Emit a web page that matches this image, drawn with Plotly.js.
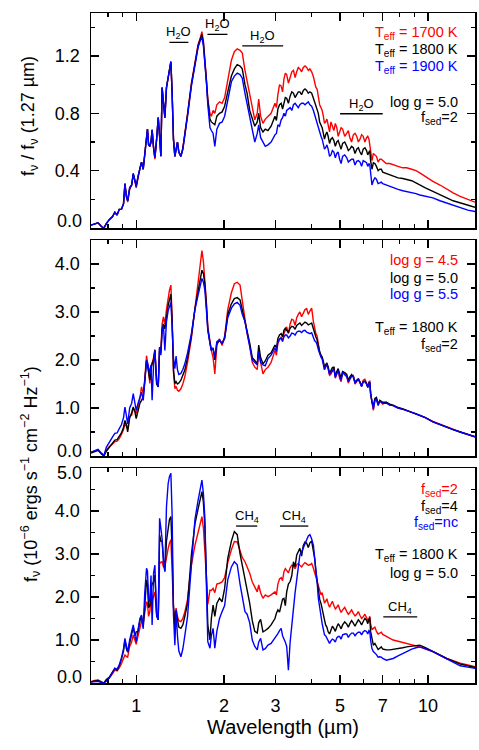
<!DOCTYPE html>
<html>
<head>
<meta charset="utf-8">
<script src="https://cdn.plot.ly/plotly-3.0.1.min.js"></script>
<style>html,body{margin:0;padding:0;background:#fff;}#chart{width:479px;height:750px;}</style>
</head>
<body>
<div id="chart"></div>
<script>
// ---------- DATA ----------
const wavelength = [
0.70,0.72,0.74,0.76,0.775,0.79,0.81,0.83,0.845,0.86,
0.875,0.89,0.905,0.915,0.925,0.935,0.95,0.965,0.977,0.99,
1.0,1.015,1.03,1.043,1.057,1.07,1.085,1.093,1.103,1.114,
1.124,1.134,1.147,1.159,1.175,1.19,1.203,1.215,1.227,1.24,
1.254,1.27,1.287,1.30,1.315,1.328,1.342,1.357,1.37,1.385,
1.40,1.423,1.445,1.468,1.50,1.546,1.59,1.63,1.66,1.68,
1.70,1.72,1.74,1.76,1.79,1.81,1.835,1.86,1.89,1.93,
1.97,2.01,2.06,2.12,2.17,2.22,2.27,2.31,2.36,2.40,
2.45,2.50,2.55,2.60,2.63,2.67,2.72,2.77,2.83,2.90,
2.99,3.06,3.14,3.21,3.28,3.37,3.46,3.55,3.64,3.74,
3.84,3.94,4.05,4.13,4.21,4.30,4.38,4.46,4.55,4.65,
4.76,4.87,4.98,5.10,5.27,5.40,5.55,5.70,5.85,6.00,
6.16,6.28,6.36,6.50,6.66,6.84,7.0,7.2,7.4,7.6,
7.9,8.2,8.45,8.8,9.1,9.38,9.8,10.4,11.0,11.6,
12.2,12.9,13.7,14.5];
// extra samples in the noisy 3-7 µm region
const wavelengthMid = [
3.025,3.10,3.175,3.245,3.325,3.415,3.505,3.595,3.69,3.79,
3.89,3.995,4.09,4.17,4.255,4.34,4.42,4.505,4.60,4.705,
4.815,4.925,5.04,5.185,5.335,5.475,5.625,5.775,5.925,6.08,
6.22,6.32,6.43,6.58,6.75,6.92];

// Panel 1: normalised flux, Teff series
const teff1700 = [
0.02,0.03,0.036,0.01,0.0,0.03,0.06,0.08,0.11,0.09,
0.13,0.13,0.17,0.30,0.22,0.18,0.27,0.30,0.37,0.33,
0.28,0.36,0.42,0.46,0.41,0.52,0.66,0.69,0.58,0.57,
0.60,0.685,0.56,0.48,0.62,0.77,0.64,0.50,0.98,0.88,
0.77,0.98,1.056,1.10,1.16,0.94,0.62,0.50,0.55,0.60,
0.53,0.50,0.56,0.65,0.80,1.01,1.17,1.28,1.33,1.37,
1.30,1.19,1.04,0.90,0.80,0.78,0.82,0.80,0.86,0.88,
0.87,0.91,1.02,1.17,1.23,1.25,1.24,1.22,1.10,1.03,
0.92,0.84,0.755,0.80,0.90,0.78,0.73,0.76,0.78,0.80,
0.87,0.93,0.99,1.04,1.07,1.05,1.10,1.09,1.11,1.12,
1.12,1.11,1.055,0.98,0.92,0.84,0.78,0.74,0.72,0.74,
0.68,0.70,0.67,0.69,0.66,0.63,0.65,0.64,0.62,0.64,
0.63,0.62,0.55,0.52,0.50,0.48,0.47,0.45,0.45,0.44,
0.43,0.42,0.42,0.41,0.40,0.385,0.36,0.325,0.30,0.27,
0.245,0.22,0.20,0.18];
const teff1700Mid = [
0.84,1.00,0.95,1.08,1.01,1.09,1.05,1.12,1.09,1.13,
1.10,1.09,1.02,0.97,0.86,0.82,0.73,0.76,0.67,0.71,
0.73,0.64,0.70,0.64,0.68,0.60,0.66,0.60,0.65,0.60,
0.64,0.58,0.47,0.51,0.46,0.48];
const teff1800 = [
0.02,0.03,0.036,0.01,0.0,0.03,0.06,0.08,0.11,0.09,
0.13,0.13,0.17,0.31,0.22,0.19,0.28,0.30,0.38,0.33,
0.29,0.36,0.42,0.46,0.41,0.52,0.66,0.69,0.58,0.57,
0.60,0.685,0.56,0.49,0.62,0.77,0.64,0.50,0.98,0.88,
0.77,0.98,1.056,1.10,1.16,0.94,0.62,0.50,0.55,0.60,
0.53,0.50,0.55,0.64,0.79,1.00,1.16,1.27,1.32,1.35,
1.29,1.18,1.03,0.89,0.76,0.74,0.73,0.72,0.78,0.80,
0.81,0.85,0.95,1.06,1.11,1.14,1.13,1.11,1.00,0.94,
0.82,0.76,0.71,0.74,0.80,0.70,0.67,0.69,0.68,0.71,
0.78,0.83,0.87,0.88,0.905,0.92,0.94,0.93,0.95,0.96,
0.96,0.95,0.905,0.85,0.80,0.72,0.66,0.65,0.64,0.62,
0.61,0.60,0.58,0.59,0.57,0.55,0.56,0.55,0.53,0.55,
0.54,0.53,0.47,0.455,0.43,0.41,0.39,0.38,0.37,0.36,
0.35,0.345,0.34,0.33,0.315,0.30,0.28,0.255,0.23,0.21,
0.19,0.175,0.16,0.145];
const teff1800Mid = [
0.75,0.86,0.83,0.91,0.87,0.95,0.91,0.95,0.93,0.97,
0.94,0.94,0.88,0.83,0.74,0.70,0.62,0.67,0.59,0.63,
0.57,0.61,0.55,0.60,0.54,0.57,0.52,0.56,0.51,0.56,
0.51,0.54,0.41,0.45,0.40,0.41];
const teff1900 = [
0.02,0.03,0.036,0.01,0.0,0.03,0.06,0.08,0.11,0.09,
0.13,0.13,0.17,0.31,0.22,0.19,0.28,0.30,0.38,0.33,
0.29,0.36,0.42,0.46,0.41,0.52,0.66,0.69,0.58,0.57,
0.60,0.685,0.56,0.49,0.62,0.77,0.64,0.50,0.98,0.88,
0.77,0.98,1.056,1.10,1.16,0.94,0.62,0.50,0.55,0.60,
0.53,0.50,0.55,0.64,0.78,0.99,1.15,1.26,1.31,1.33,
1.27,1.17,1.02,0.86,0.70,0.68,0.66,0.57,0.69,0.73,
0.74,0.78,0.90,1.02,1.06,1.08,1.07,1.045,0.94,0.86,
0.78,0.69,0.60,0.66,0.72,0.63,0.60,0.57,0.58,0.60,
0.65,0.72,0.755,0.80,0.82,0.84,0.86,0.85,0.86,0.87,
0.87,0.86,0.82,0.76,0.71,0.64,0.59,0.56,0.55,0.51,
0.53,0.52,0.48,0.50,0.49,0.47,0.48,0.465,0.46,0.47,
0.455,0.45,0.37,0.33,0.34,0.315,0.31,0.30,0.29,0.28,
0.27,0.26,0.255,0.25,0.24,0.23,0.22,0.21,0.19,0.175,
0.16,0.14,0.125,0.115];
const teff1900Mid = [
0.66,0.71,0.77,0.78,0.83,0.82,0.87,0.84,0.87,0.86,
0.88,0.85,0.79,0.74,0.66,0.62,0.55,0.58,0.50,0.54,
0.49,0.53,0.45,0.51,0.46,0.48,0.44,0.47,0.43,0.46,
0.43,0.44,0.30,0.35,0.31,0.32];

// Panel 2: flux (1e-6 cgs), log g series
const logg45 = [
0.08,0.10,0.13,0.05,0.01,0.12,0.20,0.25,0.30,0.31,
0.36,0.45,0.55,0.67,0.60,0.57,0.82,0.85,0.99,0.95,
0.88,1.05,1.20,1.44,1.30,1.60,2.09,1.95,1.65,1.51,
1.85,1.93,2.05,2.22,1.55,1.44,2.25,2.20,2.75,2.90,
2.75,3.05,3.31,3.45,3.56,2.90,1.75,1.40,1.45,1.37,
1.35,1.40,1.50,1.65,1.95,2.45,3.07,3.60,3.95,4.28,
4.05,3.70,3.20,2.69,2.35,2.20,2.05,1.71,2.30,2.44,
2.30,2.50,3.05,3.40,3.59,3.62,3.56,3.20,2.85,2.55,
2.30,1.95,1.85,1.80,2.20,1.95,1.71,1.80,1.85,1.95,
2.20,2.35,2.48,2.55,2.69,2.75,2.83,2.88,3.00,2.98,
3.07,3.02,2.80,2.55,2.30,2.08,1.95,1.85,1.82,1.70,
1.85,1.72,1.62,1.75,1.66,1.58,1.68,1.55,1.54,1.58,
1.52,1.55,1.30,0.95,1.20,1.15,1.08,1.12,1.06,1.05,
1.00,0.98,0.95,0.91,0.88,0.85,0.80,0.72,0.66,0.60,
0.55,0.50,0.45,0.40];
const logg45Mid = [
2.10,2.42,2.38,2.62,2.55,2.85,2.72,2.95,2.90,3.05,
2.95,3.08,2.62,2.50,2.15,2.05,1.80,1.92,1.68,1.80,
1.62,1.80,1.55,1.70,1.52,1.68,1.50,1.62,1.45,1.60,
1.42,1.56,1.10,1.15,1.05,1.12];
const logg50 = [
0.06,0.09,0.12,0.04,0.0,0.10,0.19,0.28,0.33,0.34,
0.40,0.48,0.60,0.74,0.66,0.50,0.80,0.90,1.02,0.92,
0.78,0.95,1.10,1.16,1.23,1.55,1.99,1.90,1.70,1.58,
1.80,1.93,2.00,2.20,1.50,1.44,2.27,2.15,2.65,2.75,
2.65,2.95,3.14,3.25,3.37,2.80,1.80,1.51,1.55,1.50,
1.52,1.58,1.68,1.79,2.05,2.50,3.07,3.45,3.72,3.87,
3.80,3.58,3.15,2.65,2.35,2.20,2.25,2.00,2.35,2.40,
2.35,2.45,2.95,3.17,3.28,3.30,3.25,3.05,2.85,2.60,
2.35,2.05,1.99,1.92,2.31,2.05,1.92,1.98,2.10,2.15,
2.31,2.45,2.55,2.62,2.62,2.66,2.69,2.72,2.77,2.76,
2.77,2.75,2.65,2.48,2.28,2.10,1.97,1.90,1.86,1.78,
1.85,1.76,1.72,1.76,1.70,1.65,1.64,1.58,1.54,1.55,
1.51,1.52,1.32,1.05,1.22,1.16,1.12,1.12,1.08,1.06,
1.01,0.98,0.95,0.91,0.87,0.85,0.80,0.71,0.65,0.60,
0.55,0.50,0.45,0.40];
const logg50Mid = [
2.25,2.52,2.48,2.66,2.57,2.70,2.64,2.75,2.72,2.79,
2.73,2.77,2.55,2.42,2.18,2.06,1.85,1.94,1.72,1.84,
1.66,1.82,1.62,1.74,1.58,1.70,1.54,1.60,1.46,1.56,
1.44,1.54,1.12,1.20,1.08,1.14];
const logg55 = [
0.08,0.11,0.14,0.06,0.01,0.18,0.30,0.40,0.47,0.48,
0.57,0.65,0.80,1.02,0.85,0.67,1.00,1.10,1.30,1.12,
0.95,1.10,1.25,1.33,1.16,1.60,1.99,1.95,1.80,1.72,
1.90,1.16,1.90,2.20,1.55,1.44,2.27,2.10,2.60,2.72,
2.20,2.80,3.03,3.10,3.20,2.70,2.05,1.82,2.08,1.80,
1.70,1.72,1.80,1.92,2.15,2.55,3.05,3.35,3.56,3.70,
3.62,3.45,3.05,2.61,2.35,2.20,2.25,2.05,2.38,2.42,
2.34,2.45,2.88,3.08,3.17,3.20,3.14,2.95,2.80,2.55,
2.30,2.00,1.95,1.90,2.17,1.95,1.90,1.88,2.03,2.10,
2.25,2.38,2.45,2.48,2.52,2.50,2.55,2.58,2.60,2.61,
2.58,2.55,2.48,2.38,2.22,2.06,1.93,1.87,1.82,1.74,
1.80,1.73,1.66,1.74,1.65,1.60,1.66,1.56,1.52,1.54,
1.50,1.52,1.30,0.98,1.18,1.14,1.10,1.10,1.06,1.05,
1.00,0.97,0.95,0.91,0.88,0.85,0.80,0.71,0.65,0.60,
0.55,0.50,0.45,0.40];
const logg55Mid = [
2.18,2.44,2.40,2.52,2.46,2.56,2.52,2.60,2.57,2.62,
2.56,2.57,2.40,2.32,2.12,2.02,1.80,1.90,1.70,1.78,
1.64,1.78,1.58,1.70,1.55,1.66,1.52,1.60,1.45,1.55,
1.43,1.52,1.08,1.16,1.06,1.12];

// Panel 3: flux (1e-6 cgs), f_sed series
const fsed2 = [
0.03,0.06,0.07,0.03,0.0,0.06,0.12,0.22,0.30,0.28,
0.35,0.45,0.55,0.65,0.62,0.60,0.85,0.95,1.12,1.00,
0.90,1.10,1.30,1.43,1.40,1.60,1.89,1.85,1.55,1.66,
1.95,1.90,2.00,2.12,1.60,1.47,2.82,2.80,2.82,2.70,
2.70,2.95,3.13,3.25,3.33,2.60,1.75,1.50,1.74,1.55,
1.45,1.43,1.50,1.65,1.95,2.74,3.20,3.50,3.75,3.87,
3.60,3.13,2.50,1.83,2.16,2.15,2.20,2.10,2.30,2.32,
2.35,2.45,2.80,3.10,3.29,3.28,3.05,2.92,2.82,2.70,
2.55,2.35,2.25,2.12,2.28,2.10,1.97,2.05,2.01,2.05,
2.12,2.30,2.45,2.59,2.62,2.68,2.72,2.75,2.74,2.76,
2.77,2.75,2.67,2.45,2.25,2.05,1.95,1.90,1.85,1.83,
1.80,1.76,1.72,1.70,1.66,1.64,1.62,1.60,1.57,1.54,
1.52,1.50,1.38,1.27,1.20,1.16,1.13,1.08,1.05,1.00,
0.97,0.94,0.92,0.89,0.87,0.84,0.79,0.73,0.65,0.57,
0.52,0.46,0.42,0.38];
const fsed2Mid = [
2.05,2.42,2.38,2.66,2.56,2.74,2.66,2.78,2.70,2.80,
2.74,2.78,2.56,2.38,2.12,2.10,1.86,1.96,1.76,1.90,
1.72,1.82,1.64,1.76,1.60,1.70,1.56,1.66,1.50,1.60,
1.46,1.55,1.24,1.30,1.14,1.18];
const fsed4 = [
0.03,0.05,0.06,0.02,0.0,0.08,0.14,0.26,0.34,0.30,
0.40,0.55,0.75,1.00,0.80,0.72,0.95,1.15,1.30,1.10,
1.19,1.20,1.45,1.55,1.30,1.80,2.40,2.30,1.75,1.80,
2.20,2.30,2.35,2.51,1.60,1.47,3.44,3.30,3.30,2.90,
2.60,3.30,3.67,3.80,3.87,3.10,1.80,1.27,1.66,1.45,
1.30,1.27,1.35,1.55,1.85,2.98,3.70,4.05,4.29,4.45,
4.20,3.60,2.50,1.35,1.00,1.50,1.81,1.55,1.85,1.97,
1.89,2.20,2.90,3.30,3.52,3.45,3.00,2.75,2.43,2.15,
1.85,1.45,1.20,1.16,1.40,1.48,1.19,1.22,1.27,1.35,
1.50,1.70,1.81,1.97,2.12,2.36,2.82,2.98,3.13,3.20,
3.25,3.26,3.10,2.59,2.12,1.85,1.55,1.35,1.19,1.25,
1.27,1.30,1.33,1.35,1.37,1.38,1.39,1.40,1.42,1.43,
1.46,1.47,1.20,0.88,0.84,0.81,0.79,0.77,0.77,0.78,
0.80,0.82,0.84,0.86,0.87,0.88,0.82,0.73,0.65,0.57,
0.51,0.44,0.40,0.36];
const fsed4Mid = [
1.62,1.65,1.95,1.80,2.30,2.50,2.70,3.05,2.95,3.28,
3.15,3.30,2.90,2.35,1.95,1.70,1.42,1.30,1.14,1.32,
1.20,1.38,1.26,1.42,1.30,1.45,1.32,1.47,1.35,1.50,
1.38,1.52,0.98,0.92,0.78,0.84];
const fsedNc = [
0.02,0.03,0.04,0.01,0.0,0.04,0.12,0.25,0.34,0.32,
0.42,0.58,0.80,1.04,0.85,0.72,1.00,1.20,1.35,1.10,
0.96,1.25,1.50,1.58,1.26,2.10,2.67,2.60,1.95,1.89,
2.50,1.35,2.55,2.74,1.55,1.47,3.83,3.60,3.36,2.80,
2.59,4.10,4.64,4.80,4.88,3.90,1.60,0.88,1.70,1.10,
0.75,0.61,0.79,1.10,1.55,2.74,3.80,4.25,4.60,4.72,
4.40,3.83,2.30,0.96,0.81,1.10,1.27,0.81,1.20,1.50,
1.66,1.80,2.40,2.70,2.82,2.75,2.30,2.05,1.66,1.60,
1.40,1.00,0.85,0.77,0.95,1.04,0.77,0.80,0.88,0.92,
1.04,1.15,1.27,1.04,0.85,0.95,1.80,2.40,2.98,3.15,
3.30,3.45,3.20,2.70,1.97,1.50,1.25,1.10,0.96,0.98,
1.00,1.05,1.08,1.12,1.14,1.12,1.16,1.15,1.18,1.19,
1.20,1.22,1.00,0.73,0.66,0.61,0.57,0.53,0.55,0.57,
0.63,0.69,0.73,0.79,0.82,0.84,0.80,0.73,0.64,0.56,
0.49,0.40,0.37,0.34];
const fsedNcMid = [
1.10,1.22,1.10,0.95,0.30,1.40,2.10,2.65,3.05,3.25,
3.42,3.35,2.95,2.35,1.72,1.38,1.12,1.04,0.92,1.02,
0.95,1.08,1.02,1.14,1.06,1.16,1.10,1.18,1.12,1.22,
1.14,1.20,0.80,0.70,0.60,0.60];

// Absorption band ranges (µm)
const h2oBands = [[1.30,1.51],[1.755,2.055],[2.31,3.19],[5.0,7.0]];
const ch4Bands = [[2.20,2.60],[3.11,3.89],[7.03,9.19]];

// Tick labels
const xTickVals = [1,2,3,5,7,10];
const xTickText = ['1','2','3','5','7','10'];
const xMinorVals = [0.8,0.9,4,6,8,9];
const y1TickVals = [0.4,0.8,1.2];
const y1TickText = ['0.4','0.8','1.2'];
const y2TickVals = [1,2,3,4];
const y2TickText = ['1.0','2.0','3.0','4.0'];
const y3TickVals = [1,2,3,4];
const y3TickText = ['1.0','2.0','3.0','4.0'];

const legend1 = ['T<sub>eff</sub> = 1700 K','T<sub>eff</sub> = 1800 K','T<sub>eff</sub> = 1900 K'];
const legend2 = ['log g = 4.5','log g = 5.0','log g = 5.5'];
const legend3 = ['f<sub>sed</sub>=2','f<sub>sed</sub>=4','f<sub>sed</sub>=nc'];

// ---------- STYLE / LAYOUT ----------
const FONT = 'Liberation Sans, Arial, Helvetica, sans-serif';
const colors = ['#ff0000','#000000','#0000ff'];
const W = 479, H = 750;
const M = {l:91, r:4, t:13, b:67};
const plotH = H - M.t - M.b;
const py = p => (H - M.b - p) / plotH;       // pixel row -> paper y
const px = p => (p - M.l) / (W - M.l - M.r); // pixel col -> paper x

// merge base grid and extra samples into one sorted sequence
const order = wavelength.map((w,i)=>({w, s:0, i}))
  .concat(wavelengthMid.map((w,i)=>({w, s:1, i})))
  .sort((a,b)=>a.w-b.w);
const xAll = order.map(o=>o.w);
const merge = (base, mid) => order.map(o => o.s===0 ? base[o.i] : mid[o.i]);

const panels = [
  {xa:'x',  ya:'y',  series:[[teff1700,teff1700Mid],[teff1800,teff1800Mid],[teff1900,teff1900Mid]]},
  {xa:'x2', ya:'y2', series:[[logg45,logg45Mid],[logg50,logg50Mid],[logg55,logg55Mid]]},
  {xa:'x3', ya:'y3', series:[[fsed2,fsed2Mid],[fsed4,fsed4Mid],[fsedNc,fsedNcMid]]}
];

const traces = [];
panels.forEach(p => {
  p.series.forEach((s,i) => {
    traces.push({type:'scatter', mode:'lines', x:xAll, y:merge(s[0],s[1]), xaxis:p.xa, yaxis:p.ya,
      line:{color:colors[i], width:1.4}, showlegend:false, hoverinfo:'skip'});
  });
});

function bandTrace(bands, levels, xa, ya){
  const x=[], y=[];
  bands.forEach((b,i)=>{ x.push(b[0],b[1],null); y.push(levels[i],levels[i],null); });
  return {type:'scatter', mode:'lines', x, y, xaxis:xa, yaxis:ya,
    line:{color:'black', width:1.3}, showlegend:false, hoverinfo:'skip'};
}
const h2oLevels = [1.295,1.351,1.27,0.797];
const ch4Levels = [3.65,3.65,1.54];
traces.push(bandTrace(h2oBands, h2oLevels, 'x', 'y'));
traces.push(bandTrace(ch4Bands, ch4Levels, 'x3', 'y3'));

const annotations = [];
function bandLabels(bands, levels, text, xa, ya){
  bands.forEach((b,i)=>{
    annotations.push({xref:xa, yref:ya, x:(Math.log10(b[0])+Math.log10(b[1]))/2, y:levels[i],
      text:text, showarrow:false, xanchor:'center', yanchor:'bottom', yshift:-1,
      font:{family:FONT, size:13, color:'black'}});
  });
}
bandLabels(h2oBands, h2oLevels, 'H<sub>2</sub>O', 'x', 'y');
bandLabels(ch4Bands, ch4Levels, 'CH<sub>4</sub>', 'x3', 'y3');

function txt(text, yPix, color){
  annotations.push({xref:'paper', yref:'paper', x:px(460), y:py(yPix), text, showarrow:false,
    xanchor:'right', yanchor:'middle', font:{family:FONT, size:14.5, color}});
}
legend1.forEach((t,i)=>txt(t,[33,50,67][i],colors[i]));
txt('log g = 5.0',102,'black'); txt('f<sub>sed</sub>=2',118,'black');
legend2.forEach((t,i)=>txt(t,[260,278,294][i],colors[i]));
txt('T<sub>eff</sub> = 1800 K',328,'black'); txt('f<sub>sed</sub>=2',345,'black');
legend3.forEach((t,i)=>txt(t,[490,507,523][i],colors[i]));
txt('T<sub>eff</sub> = 1800 K',555,'black'); txt('log g = 5.0',573,'black');

// End-of-axis tick labels (shifted inward as in the original)
function endLabel(text, ya, yv, shift){
  annotations.push({xref:'paper', yref:ya, x:0, y:yv, xshift:-7, yshift:shift, text, showarrow:false,
    xanchor:'right', yanchor:'middle', font:{family:FONT, size:18, color:'black'}});
}
endLabel('0.0','y',0,7); endLabel('0.0','y2',0,5); endLabel('5.0','y3',5,-5); endLabel('0.0','y3',0,6);

// Y titles
annotations.push({xref:'paper', yref:'paper', x:px(30), y:py(116), textangle:-90, showarrow:false,
  xanchor:'center', yanchor:'middle', text:'f<sub>ν</sub> / f<sub>ν</sub> (1.27 µm)',
  font:{family:FONT, size:18, color:'black'}});
annotations.push({xref:'paper', yref:'paper', x:px(30), y:py(474), textangle:-90, showarrow:false,
  xanchor:'center', yanchor:'middle',
  text:'f<sub>ν</sub> (10<sup>−6</sup> ergs s<sup>−1</sup> cm<sup>−2</sup> Hz<sup>−1</sup>)',
  font:{family:FONT, size:18, color:'black'}});

function xAxis(anchor, showLabels, extra){
  return Object.assign({type:'log', range:[Math.log10(0.7), Math.log10(14.5)], anchor,
    showline:true, linecolor:'black', linewidth:1.5, mirror:'allticks',
    ticks:'inside', ticklen:8, tickwidth:1.3, tickcolor:'black',
    tickmode:'array', tickvals:xTickVals, ticktext:xTickText, showticklabels:showLabels,
    tickfont:{family:FONT, size:18, color:'black'}, ticklabelstandoff:6,
    showgrid:false, zeroline:false,
    minor:{tickmode:'array', tickvals:xMinorVals, ticks:'inside', ticklen:4, tickwidth:1.3, tickcolor:'black', showgrid:false}
  }, extra||{});
}
function yAxis(anchor, domain, range, tv, tt, minorD){
  return {anchor, domain, range, showline:true, linecolor:'black', linewidth:1.5, mirror:'allticks',
    ticks:'inside', ticklen:8, tickwidth:1.3, tickcolor:'black',
    tickmode:'array', tickvals:tv, ticktext:tt, tickfont:{family:FONT, size:18, color:'black'},
    ticklabelstandoff:6, showgrid:false, zeroline:false,
    minor:{tickmode:'linear', tick0:0, dtick:minorD, ticks:'inside', ticklen:4, tickwidth:1.3, tickcolor:'black', showgrid:false}};
}

const layout = {
  width:W, height:H, margin:M, paper_bgcolor:'white', plot_bgcolor:'white',
  font:{family:FONT, color:'black'}, showlegend:false,
  xaxis: xAxis('y', false),
  xaxis2: xAxis('y2', false),
  xaxis3: xAxis('y3', true, {title:{text:'Wavelength (µm)', font:{family:FONT, size:20, color:'black'}, standoff:4}}),
  yaxis:  yAxis('x',  [py(228),1], [0,1.5], y1TickVals, y1TickText, 0.2),
  yaxis2: yAxis('x2', [py(456),py(240)], [0,4.5], y2TickVals, y2TickText, 0.5),
  yaxis3: yAxis('x3', [0,py(468)], [0,5.0], y3TickVals, y3TickText, 0.5),
  annotations
};

Plotly.newPlot('chart', traces, layout, {staticPlot:true, displayModeBar:false});
</script>
</body>
</html>
